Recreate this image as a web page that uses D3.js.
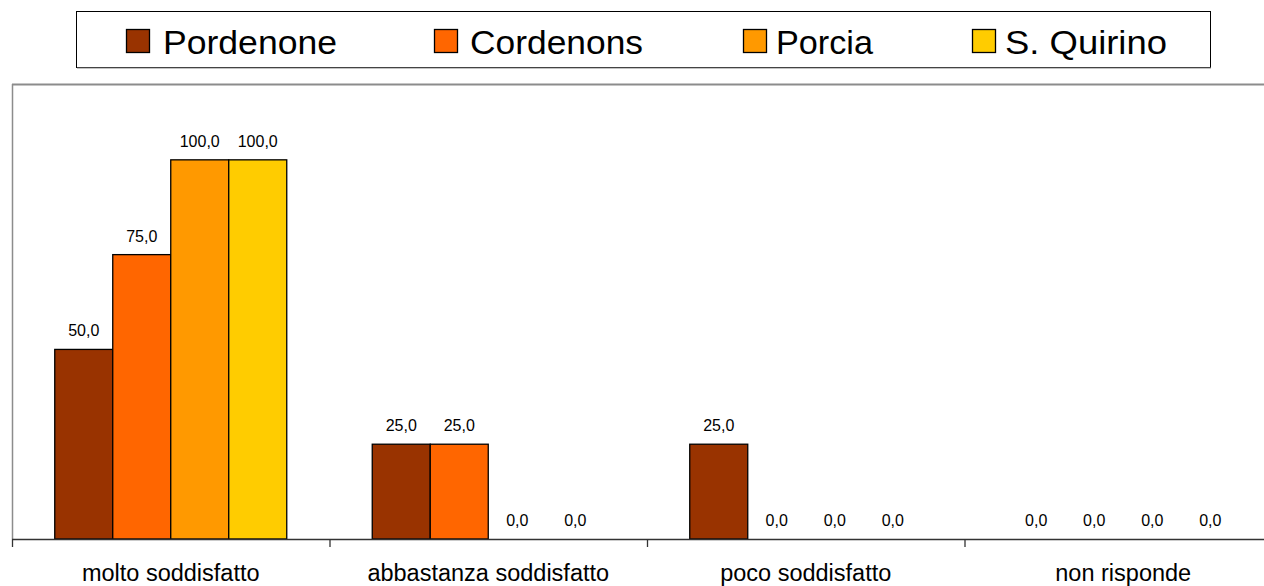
<!DOCTYPE html>
<html><head><meta charset="utf-8">
<script src="https://cdn.jsdelivr.net/npm/d3@7"></script>
<style>html,body{margin:0;padding:0;background:#fff;overflow:hidden}svg{display:block;font-family:"Liberation Sans",Arial,sans-serif}</style>
</head><body><svg id="c" width="1264" height="586"></svg>
<script>
const categories = ["molto soddisfatto","abbastanza soddisfatto","poco soddisfatto","non risponde"];
const seriesNames = ["Pordenone","Cordenons","Porcia","S. Quirino"];
const colors = ["#993300","#FF6600","#FF9900","#FFCC00"];
const Pordenone = [50,25,25,0];
const Cordenons = [75,25,0,0];
const Porcia = [100,0,0,0];
const SQuirino = [100,0,0,0];
const seriesValues = [Pordenone,Cordenons,Porcia,SQuirino];

const svg = d3.select("#c");
const mLeft = 12, mTop = 84, mBottom = 539, catStep = 317.5;
const x = d3.scaleBand().domain(categories).range([mLeft, mLeft + catStep*categories.length]).padding(0);
const xs = d3.scaleBand().domain(seriesNames).range([0, x.bandwidth()]).paddingInner(0).paddingOuter(0.737);
const y = d3.scaleLinear().domain([0,120]).range([mBottom, mTop]);

// plot frame (top and left, gray)
svg.append("line").attr("x1",mLeft).attr("x2",1264).attr("y1",mTop+0.5).attr("y2",mTop+0.5).attr("stroke","#8c8c8c").attr("stroke-width",2);
svg.append("line").attr("x1",mLeft+0.5).attr("x2",mLeft+0.5).attr("y1",mTop).attr("y2",mBottom).attr("stroke","#8c8c8c").attr("stroke-width",1.5);

// bars
const data = [];
categories.forEach((c,i)=>seriesNames.forEach((s,j)=>data.push({c,s,j,v:seriesValues[j][i]})));
svg.append("g").selectAll("rect").data(data.filter(d=>d.v>0)).join("rect")
  .attr("x",d=>x(d.c)+xs(d.s)).attr("width",xs.bandwidth())
  .attr("y",d=>y(d.v)).attr("height",d=>y(0)-y(d.v))
  .attr("fill",d=>colors[d.j]).attr("stroke","#000").attr("stroke-width",1.3);

// value labels
const fmt = v => d3.format(".1f")(v).replace(".",",");
svg.append("g").selectAll("text").data(data).join("text")
  .attr("x",d=>x(d.c)+xs(d.s)+xs.bandwidth()/2).attr("y",d=>y(d.v)-13)
  .attr("text-anchor","middle").attr("font-size",16).attr("fill","#000").text(d=>fmt(d.v));

// axis
const axg = svg.append("g").attr("transform",`translate(0,${mBottom})`);
axg.append("line").attr("x1",mLeft).attr("x2",1264).attr("y1",0.5).attr("y2",0.5).attr("stroke","#333").attr("stroke-width",1.5);
axg.selectAll(".tk").data(categories).join("line").attr("class","tk")
  .attr("x1",d=>x(d)+0.5).attr("x2",d=>x(d)+0.5).attr("y1",0).attr("y2",8).attr("stroke","#333").attr("stroke-width",1.3);
axg.selectAll(".cl").data(categories).join("text").attr("class","cl")
  .attr("x",d=>x(d)+x.bandwidth()/2).attr("y",42).attr("text-anchor","middle")
  .attr("font-size",23.5).attr("fill","#000").text(d=>d);

// legend
const lg = svg.append("g");
lg.append("rect").attr("x",76.5).attr("y",11.5).attr("width",1134).attr("height",56).attr("fill","#fff").attr("stroke","#000").attr("stroke-width",1);
lg.append("line").attr("x1",77).attr("x2",1211).attr("y1",68).attr("y2",68).attr("stroke","#888").attr("stroke-width",1);
const legSq = [126,434,743,972];
const legTx = [163,470,776,1005];
const legW = [174,173,97,162];
seriesNames.forEach((s,i)=>{
  lg.append("rect").attr("x",legSq[i]+0.5).attr("y",29.5).attr("width",23).attr("height",23).attr("fill",colors[i]).attr("stroke","#000").attr("stroke-width",1.3);
  lg.append("text").attr("x",legTx[i]).attr("y",54).attr("font-size",34).attr("fill","#000")
    .attr("textLength",legW[i]).attr("lengthAdjust","spacingAndGlyphs").text(s);
});
</script></body></html>
